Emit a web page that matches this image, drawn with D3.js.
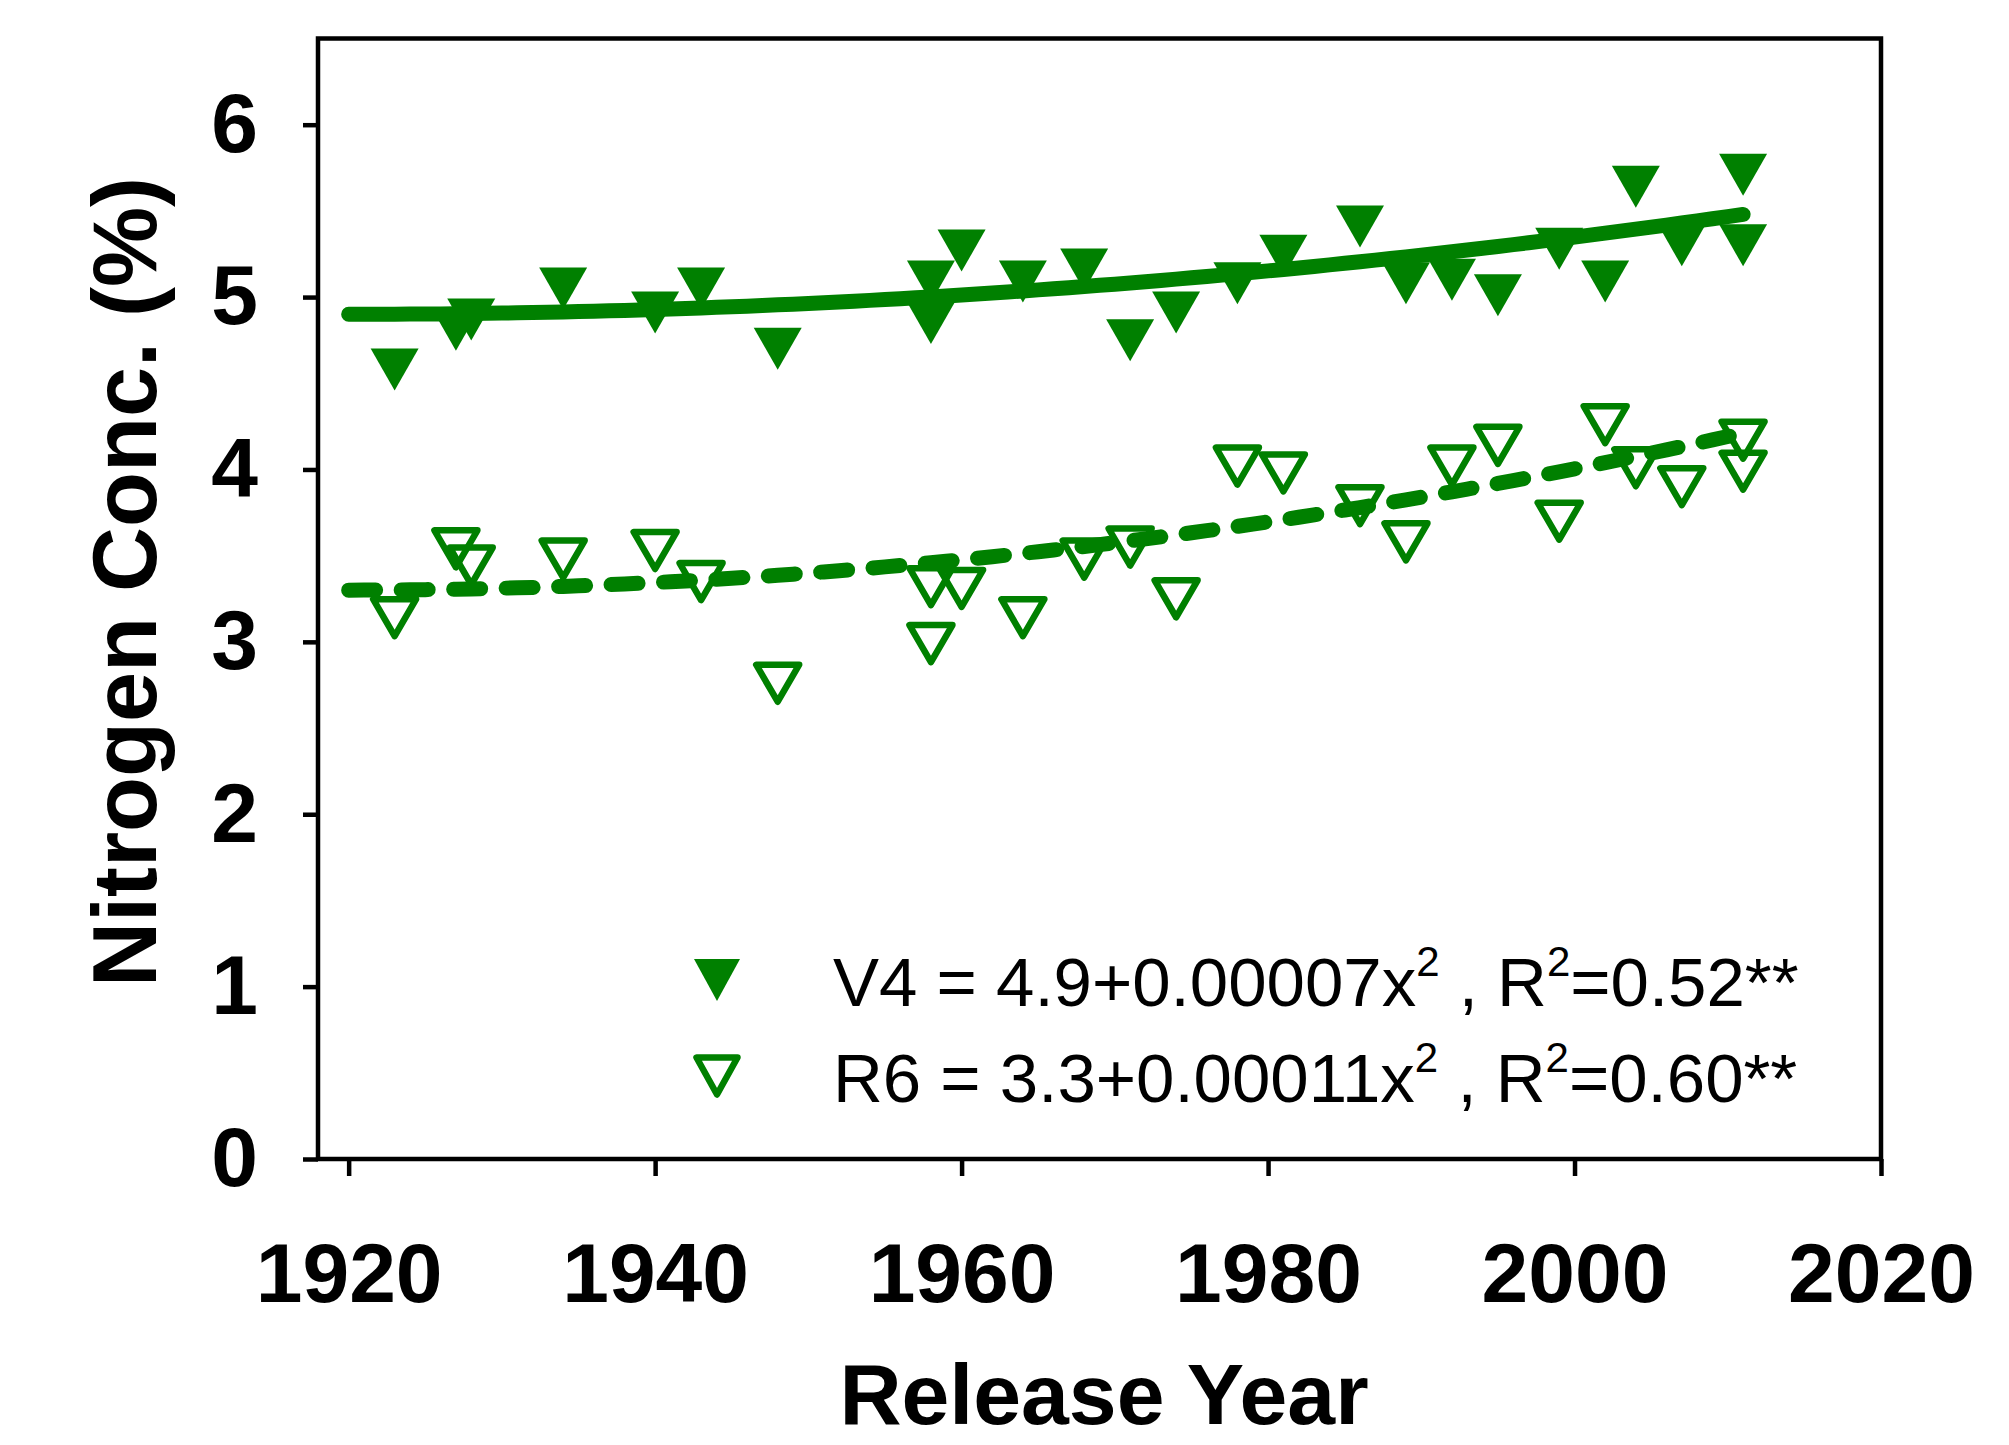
<!DOCTYPE html>
<html>
<head>
<meta charset="utf-8">
<script src="https://cdn.jsdelivr.net/npm/d3@7"></script>
<style>
  html, body { margin: 0; padding: 0; background: #fff; }
  text { font-family: "Liberation Sans", Arial, sans-serif; }
</style>
</head>
<body>
<div id="chart"></div>
<script>
// release years of the cultivars
let years = [1923, 1927, 1928, 1934, 1940, 1943, 1948, 1958, 1958, 1960, 1964, 1968, 1971,
             1974, 1978, 1981, 1986, 1989, 1992, 1995, 1999, 2002, 2004, 2007, 2011, 2011];
// N concentration at V4 (filled) and R6 (open)
let v4 = [4.58, 4.81, 4.87, 5.05, 4.91, 5.05, 4.70, 5.09, 4.85, 5.27, 5.09, 5.16, 4.75,
          4.91, 5.08, 5.24, 5.41, 5.08, 5.10, 5.01, 5.28, 5.09, 5.64, 5.30, 5.71, 5.30];
let r6 = [3.14, 3.54, 3.44, 3.48, 3.53, 3.35, 2.76, 3.32, 2.99, 3.31, 3.14, 3.48, 3.55,
          3.25, 4.02, 3.98, 3.79, 3.58, 4.02, 4.14, 3.70, 4.26, 4.01, 3.90, 4.17, 3.99];

// quadratic fits as printed in the legend
let fitNames = ["V4", "R6"];
let fitIntercept = ["4.9", "3.3"];
let fitCoef = ["0.00007", "0.00011"];
let fitR2 = ["0.52", "0.60"];
let fitYears = [1920, 2011];

let xTicks = [1920, 1940, 1960, 1980, 2000, 2020];
let yTicks = [0, 1, 2, 3, 4, 5, 6];

let w = 2009, h = 1445, green = "#008000";
let padL = 318, padR = 1881, padT = 38.5, padB = 1159;

const svg = d3.select("#chart")
  .append("svg")
  .attr("width", w)
  .attr("height", h)
  .style("display", "block");

svg.append("rect").attr("width", w).attr("height", h).attr("fill", "#fff");

const xScale = d3.scaleLinear().domain([1918, 2020]).range([padL, padR]);
const yScale = d3.scaleLinear().domain([0, 6.5]).range([padB, padT]);

// downward triangles, centred on the bounding box
let tri = (tw, th) => "M" + (-tw / 2) + "," + (-th / 2) + "L" + (tw / 2) + "," + (-th / 2) + "L0," + (th / 2) + "Z";

svg.append("g")
  .selectAll("path")
  .data(years.map((d, i) => [d, v4[i]]))
  .enter()
  .append("path")
  .attr("d", tri(48, 42))
  .attr("transform", d => "translate(" + xScale(d[0]) + "," + yScale(d[1]) + ")")
  .attr("fill", green);

svg.append("g")
  .selectAll("path")
  .data(years.map((d, i) => [d, r6[i]]))
  .enter()
  .append("path")
  .attr("d", tri(43, 37))
  .attr("transform", d => "translate(" + xScale(d[0]) + "," + yScale(d[1]) + ")")
  .attr("fill", "none")
  .attr("stroke", green)
  .attr("stroke-width", 6.5)
  .attr("stroke-linejoin", "round");

// fitted curves
let line = d3.line().x(d => xScale(d[0])).y(d => yScale(d[1]));
fitNames.forEach((name, k) => {
  let a = +fitIntercept[k], b = +fitCoef[k];
  let pts = d3.range(fitYears[0], fitYears[1] + 0.5, 1).map(yr => [yr, a + b * (yr - 1920) * (yr - 1920)]);
  svg.append("path")
    .datum(pts)
    .attr("d", line)
    .attr("fill", "none")
    .attr("stroke", green)
    .attr("stroke-width", 15)
    .attr("stroke-linecap", "round")
    .attr("stroke-dasharray", k == 1 ? "27,25.5" : null);
});

// frame
svg.append("rect")
  .attr("x", padL).attr("y", padT)
  .attr("width", padR - padL).attr("height", padB - padT)
  .attr("fill", "none").attr("stroke", "#000").attr("stroke-width", 4.5);

const yAxis = d3.axisLeft(yScale).tickValues(yTicks).tickFormat(d3.format("d")).tickSize(15).tickPadding(45);
const xAxis = d3.axisBottom(xScale).tickValues(xTicks).tickFormat(d3.format("d")).tickSize(17).tickPadding(66);

let gy = svg.append("g").attr("transform", "translate(" + padL + ",0)").call(yAxis);
let gx = svg.append("g").attr("transform", "translate(0," + padB + ")").call(xAxis);
[gx, gy].forEach(g => {
  g.select(".domain").remove();
  g.selectAll("line").attr("stroke", "#000").attr("stroke-width", 4.5);
  g.selectAll("text")
    .attr("fill", "#000")
    .style("font-family", "'Liberation Sans', Arial, sans-serif")
    .style("font-weight", "bold")
    .style("font-size", "84px");
});

// axis titles
svg.append("text")
  .attr("x", 1104).attr("y", 1424)
  .attr("text-anchor", "middle")
  .style("font-weight", "bold").style("font-size", "86px")
  .text("Release Year");

svg.append("text")
  .attr("transform", "translate(156,582) rotate(-90)")
  .attr("text-anchor", "middle")
  .style("font-weight", "bold").style("font-size", "90px")
  .text("Nitrogen Conc. (%)");

// legend
let legend = svg.append("g").attr("id", "legend");
fitNames.forEach((name, k) => {
  let cy = 980 + k * 96;
  legend.append("path")
    .attr("d", k == 0 ? tri(46, 42) : tri(41, 37))
    .attr("transform", "translate(717," + cy + ")")
    .attr("fill", k == 0 ? green : "none")
    .attr("stroke", k == 0 ? null : green)
    .attr("stroke-width", 6.5)
    .attr("stroke-linejoin", "round");
  let t = legend.append("text")
    .attr("x", 833).attr("y", cy + 26)
    .attr("xml:space", "preserve")
    .style("white-space", "pre")
    .style("font-size", "69px");
  t.append("tspan").text(name + " = " + fitIntercept[k] + "+" + fitCoef[k] + "x");
  t.append("tspan").attr("dy", -30).style("font-size", "42px").text("2");
  t.append("tspan").attr("dy", 30).text(" , R");
  t.append("tspan").attr("dy", -30).style("font-size", "42px").text("2");
  t.append("tspan").attr("dy", 30).text("=" + fitR2[k] + "**");
});
</script>
</body>
</html>
